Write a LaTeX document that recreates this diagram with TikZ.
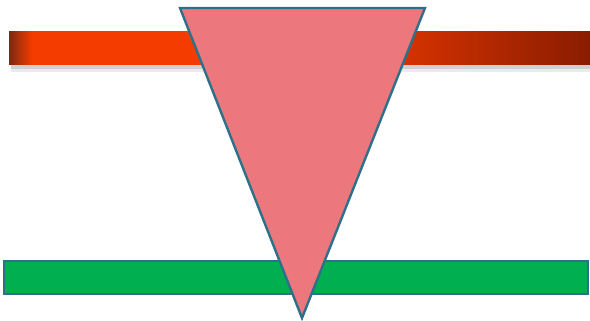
\documentclass[tikz,border=0pt]{standalone}
\usetikzlibrary{calc}

\definecolor{barDark}{HTML}{7A2A12}
\definecolor{barOrange}{HTML}{F53C00}
\definecolor{barDeep}{HTML}{8A1C00}
\definecolor{barGreen}{HTML}{00B050}
\definecolor{edgeTeal}{HTML}{2C7189}
\definecolor{wedgePink}{HTML}{EC777C}

\pgfdeclarehorizontalshading{redbar}{100bp}{color(0bp)=(barDark); color(25bp)=(barDark);
  color(27bp)=(barOrange); color(52bp)=(barOrange); color(75bp)=(barDeep); color(100bp)=(barDeep)}

\tikzset{
  balken/.style={line width=1.6pt, draw=edgeTeal, fill=barGreen},
  keil/.style={line width=2.4pt, draw=edgeTeal, fill=wedgePink, line join=miter}
}

\begin{document}
\begin{tikzpicture}[x=1pt,y=1pt]
  \useasboundingbox (0,0) rectangle (590,321);

  % oberer Balken mit Schatten
  \fill[black!18] (11,252) rectangle (590,256);
  \fill[black!8] (11,249) rectangle (590,252);
  \shade[shading=redbar] (9,256) rectangle (590,289);

  % unterer Balken
  \draw[balken] (4,27) rectangle (588,60);

  % Keil
  \coordinate (links) at (180,313);
  \coordinate (rechts) at (425,313);
  \coordinate (spitze) at (302,3);
  \draw[keil] (links) -- (rechts) -- (spitze) -- cycle;
\end{tikzpicture}
\end{document}
